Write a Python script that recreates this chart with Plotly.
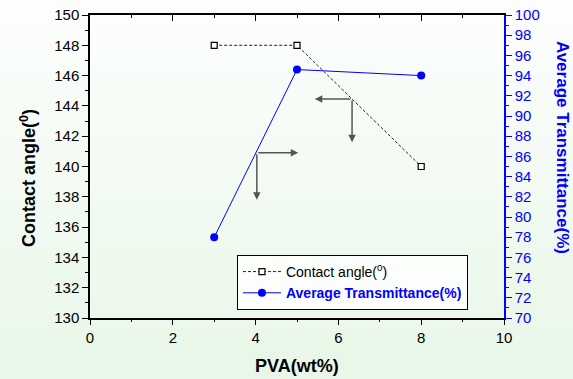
import plotly.graph_objects as go

# ---- data ----
pva = [3, 5, 8]
contact_angle = [148, 148, 140]
transmittance = [78, 94.6, 94.0]

x_ticks = [0, 2, 4, 6, 8, 10]
left_ticks = list(range(130, 151, 2))
right_ticks = list(range(70, 101, 2))

# arrows: (tail_x, tail_y, head_x, head_y) in contact-angle axis units
arrow_tails_x = [4.03, 4.03, 6.33, 6.33]
arrow_tails_y = [140.9, 140.9, 144.45, 144.45]
arrow_heads_x = [5.03, 4.03, 5.43, 6.33]
arrow_heads_y = [140.9, 137.8, 144.45, 141.6]

FONT = "Liberation Sans, Arial, sans-serif"
BLUE = "#0000ff"

fig = go.Figure()

fig.add_trace(go.Scatter(
    x=pva, y=contact_angle, name="Contact angle(<sup>0</sup>)",
    mode="lines+markers",
    line=dict(color="#222222", width=1, dash="3px,2px"),
    marker=dict(symbol="square", size=6, color="white",
                line=dict(color="black", width=1.2)),
    yaxis="y", xaxis="x"))

fig.add_trace(go.Scatter(
    x=pva, y=transmittance,
    name="<b><span style='color:#0000ff'>Average Transmittance(%)</span></b>",
    mode="lines+markers",
    line=dict(color=BLUE, width=1),
    marker=dict(symbol="circle", size=8, color=BLUE),
    yaxis="y2", xaxis="x"))

# background gradient bands (white at top -> pale green at bottom)
shapes = []
n = 24
top_c = (253, 254, 252)
bot_c = (232, 247, 232)
y0p, y1p = -61 / 303.0, 1 + 15 / 303.0
for i in range(n):
    t = i / (n - 1)
    c = tuple(int(round(top_c[k] + (bot_c[k] - top_c[k]) * t)) for k in range(3))
    ya = y1p - (y1p - y0p) * i / n
    yb = y1p - (y1p - y0p) * (i + 1) / n
    shapes.append(dict(type="rect", xref="paper", yref="paper",
                       x0=-0.3, x1=1.3, y0=yb - 0.01, y1=ya + 0.005,
                       fillcolor="rgb(%d,%d,%d)" % c, line=dict(width=0),
                       layer="below"))

annotations = []
for tx, ty, hx, hy in zip(arrow_tails_x, arrow_tails_y, arrow_heads_x, arrow_heads_y):
    annotations.append(dict(x=hx, y=hy, ax=tx, ay=ty, xref="x", yref="y",
                            axref="x", ayref="y", text="", showarrow=True,
                            arrowhead=2, arrowsize=1, arrowwidth=1.5,
                            arrowcolor="#555555"))

annotations.append(dict(text="<b>Contact angle(<sup>0</sup>)</b>", xref="paper", yref="paper",
                        x=-0.150, y=0.462, xanchor="center", yanchor="middle",
                        textangle=-90, showarrow=False,
                        font=dict(family=FONT, size=18, color="black")))
annotations.append(dict(text="<b>Average Transmittance(%)</b>", xref="paper", yref="paper",
                        x=1.1425, y=0.561, xanchor="center", yanchor="middle",
                        textangle=90, showarrow=False,
                        font=dict(family=FONT, size=17, color=BLUE)))
annotations.append(dict(text="<b>PVA(wt%)</b>", xref="paper", yref="paper",
                        x=0.5, y=-0.159, xanchor="center", yanchor="middle",
                        showarrow=False,
                        font=dict(family=FONT, size=18, color="black")))

fig.update_layout(
    width=573, height=379,
    margin=dict(l=90, r=69, t=15, b=61, autoexpand=False),
    paper_bgcolor="rgba(0,0,0,0)",
    plot_bgcolor="rgba(0,0,0,0)",
    font=dict(family=FONT, size=15, color="black"),
    shapes=shapes,
    annotations=annotations,
    showlegend=True,
    legend=dict(x=0.355, y=0.208, xanchor="left", yanchor="top",
                bgcolor="#fbfefb", bordercolor="black", borderwidth=1,
                font=dict(family=FONT, size=14, color="black"),
                tracegroupgap=0, itemwidth=38),
    xaxis=dict(range=[0, 10], tickvals=x_ticks, ticks="outside", ticklen=5,
               tickwidth=1, tickcolor="black", automargin=False,
               minor=dict(dtick=1, ticks="outside", ticklen=2, tickcolor="black"),
               showline=True, linecolor="black", linewidth=1.5,
               showgrid=False, zeroline=False,
               tickfont=dict(family=FONT, size=15, color="black")),
    xaxis2=dict(range=[0, 10], overlaying="x", side="top", tickvals=x_ticks,
                ticks="inside", ticklen=6, tickcolor="black", automargin=False,
                minor=dict(dtick=1, ticks="inside", ticklen=3, tickcolor="black"),
                showticklabels=False, showline=True, linecolor="black",
                linewidth=1.5, showgrid=False, zeroline=False),
    yaxis=dict(range=[130, 150], tickvals=left_ticks, ticks="outside", ticklen=6,
               tickcolor="black", automargin=False,
               minor=dict(dtick=1, ticks="outside", ticklen=3, tickcolor="black"),
               showline=True, linecolor="black", linewidth=1.5,
               showgrid=False, zeroline=False,
               tickfont=dict(family=FONT, size=15, color="black")),
    yaxis2=dict(range=[70, 100], tickvals=right_ticks, overlaying="y", side="right",
                ticks="outside", ticklen=6, tickcolor=BLUE, automargin=False,
                minor=dict(dtick=1, ticks="outside", ticklen=3, tickcolor=BLUE),
                showline=True, linecolor=BLUE, linewidth=1.5,
                showgrid=False, zeroline=False,
                tickfont=dict(family=FONT, size=15, color=BLUE)),
)

# dummy trace to activate xaxis2
fig.add_trace(go.Scatter(x=[None], y=[None], xaxis="x2", yaxis="y",
                         showlegend=False, hoverinfo="skip"))

fig.write_html("out.html", config={"displayModeBar": False},
               post_script="document.body.style.margin='0';")
